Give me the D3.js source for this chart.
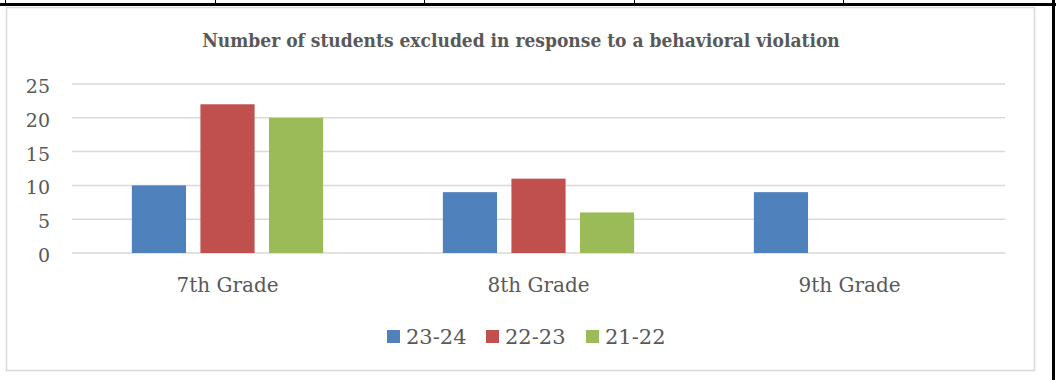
<!DOCTYPE html>
<html><head><meta charset="utf-8">
<script src="https://cdn.jsdelivr.net/npm/d3@7"></script>
<style>body{margin:0;background:#fff}svg{display:block}</style>
</head><body><svg id="c" width="1059" height="380"></svg>
<script>
const categories = ["7th Grade", "8th Grade", "9th Grade"];
const series = ["23-24", "22-23", "21-22"];
const values_2324 = [10, 9, 9];
const values_2223 = [22, 11, 0];
const values_2122 = [20, 6, 0];
const yTicks = [0, 5, 10, 15, 20, 25];
const colors = ["#4f81bd", "#c0504d", "#9bbb59"];
const title = "Number of students excluded in response to a behavioral violation";

const allValues = [values_2324, values_2223, values_2122];
const svg = d3.select("#c");
const font = "'DejaVu Serif', serif";
const textColor = "#595959";

// page decorations (table lines)
svg.append("rect").attr("x", 0).attr("y", 3).attr("width", 1056).attr("height", 3).attr("fill", "#000");
svg.append("rect").attr("x", 1052).attr("y", 0).attr("width", 3).attr("height", 380).attr("fill", "#000");
[5, 215, 424, 634, 843].forEach(x => svg.append("rect").attr("x", x).attr("y", 0).attr("width", 1).attr("height", 3).attr("fill", "#000"));

// chart frame
svg.append("rect").attr("x", 6.5).attr("y", 7.5).attr("width", 1028).attr("height", 363)
  .attr("fill", "#fff").attr("stroke", "#d9d9d9").attr("stroke-width", 1.5);

svg.append("text").attr("x", 521).attr("y", 47).attr("text-anchor", "middle")
  .attr("font-family", "'DejaVu Serif Condensed', 'DejaVu Serif', serif").attr("font-weight", "bold")
  .attr("font-size", 19).attr("fill", textColor).text(title);

const left = 72, right = 1005;
const y = d3.scaleLinear().domain([0, 25]).range([253, 84]);
const x0 = d3.scaleBand().domain(categories).range([left, right]).paddingInner(0.385).paddingOuter(0.1925);
const x1 = d3.scaleBand().domain(series).range([0, x0.bandwidth()]).paddingInner(0.21);

// gridlines
svg.append("g").selectAll("line").data(yTicks).join("line")
  .attr("x1", left).attr("x2", right).attr("y1", d => y(d)).attr("y2", d => y(d))
  .attr("stroke", "#d9d9d9").attr("stroke-width", 1.5);

// y axis labels
const yAxis = svg.append("g").attr("transform", `translate(${left},0)`)
  .call(d3.axisLeft(y).tickValues(yTicks).tickSize(0).tickPadding(22));
yAxis.select(".domain").remove();
yAxis.selectAll("text").attr("font-family", font).attr("font-size", 19).attr("fill", textColor).attr("dy", "0.45em");

// bars
const groups = svg.append("g").selectAll("g").data(categories).join("g")
  .attr("transform", d => `translate(${x0(d)},0)`);
groups.selectAll("rect").data((c, i) => series.map((s, j) => ({s, v: allValues[j][i], j})).filter(d => d.v > 0))
  .join("rect")
  .attr("x", d => x1(d.s)).attr("width", x1.bandwidth())
  .attr("y", d => y(d.v)).attr("height", d => y(0) - y(d.v))
  .attr("fill", d => colors[d.j]);

// x axis labels
const xAxis = svg.append("g").attr("transform", `translate(0,${y(0)})`)
  .call(d3.axisBottom(x0).tickSize(0).tickPadding(25));
xAxis.select(".domain").remove();
xAxis.selectAll("text").attr("font-family", font).attr("font-size", 20).attr("fill", textColor);

// legend
const legendX = [387, 486, 586];
const lg = svg.append("g").selectAll("g").data(series).join("g")
  .attr("transform", (d, i) => `translate(${legendX[i]},330)`);
lg.append("rect").attr("width", 13).attr("height", 13).attr("fill", (d, i) => colors[i]);
lg.append("text").attr("x", 19).attr("y", 14).attr("font-family", font).attr("font-size", 21)
  .attr("fill", textColor).text(d => d);
</script></body></html>
